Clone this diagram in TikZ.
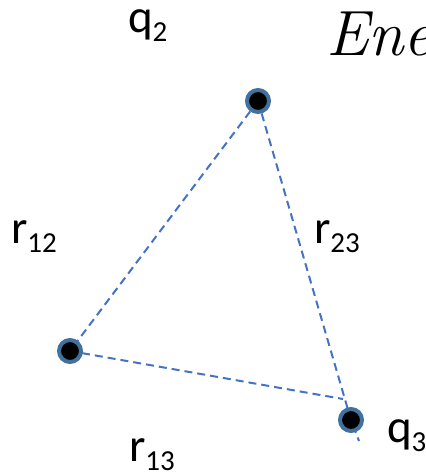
\documentclass[tikz,border=0pt]{standalone}
\usepackage{fontspec}
\setmainfont{Carlito}
\newfontfamily\inkfont{Latin Modern Roman}
\usetikzlibrary{positioning}

\newcommand{\sublbl}[2]{#1\raisebox{-9pt}{\fontsize{29}{30}\selectfont #2}}

\begin{document}
\begin{tikzpicture}[x=1pt,y=-1pt,
every node/.style={circle,draw=chargering,fill=black,line width=4pt,minimum size=22pt,inner sep=0pt},
bond/.style={draw=bondblue,line width=2pt,dash pattern=on 8pt off 5pt},
lbl/.style={draw=none,fill=none,rectangle,inner sep=0pt,anchor=base west,font=\fontsize{47}{50}\selectfont}]
\definecolor{chargering}{RGB}{65,113,156}
\definecolor{bondblue}{RGB}{68,114,196}
\useasboundingbox (0,0) rectangle (425,473);
\clip (0,0) rectangle (425,473);
\coordinate (Q1) at (70,351);
\coordinate (Q2) at (258,101);
\coordinate (Q3) at (351,420);
\coordinate (T3) at (359,441);
\coordinate (E13) at (343,399);
\draw[bond] (Q2)--(Q1)--(E13);
\draw[bond] (Q2)--(Q3)--(T3);
\node (N1) at (Q1) {};
\node (N2) at (Q2) {};
\node (N3) at (Q3) {};
\node[lbl] (L2) at (126,33) {\sublbl{q}{2}};
\node[lbl] (L12) at (9,243) {\sublbl{r}{12}};
\node[lbl] (L23) at (312,243) {\sublbl{r}{23}};
\node[lbl] (L13) at (127,461) {\sublbl{r}{13}};
\node[lbl] (L3) at (385,442) {\sublbl{q}{3}};
\node[lbl,font=\inkfont\itshape\fontsize{64}{66}\selectfont] (ink) at (324,56) {Ene};
\end{tikzpicture}
\end{document}
